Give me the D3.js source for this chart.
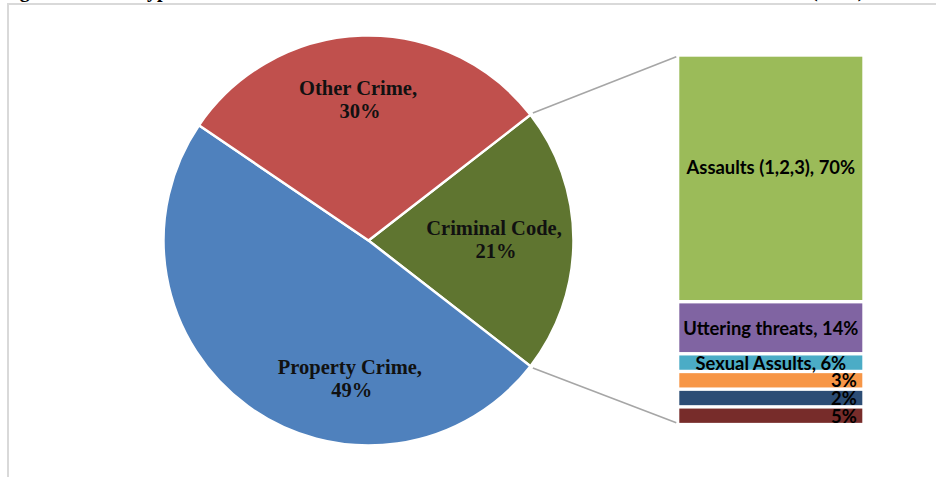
<!DOCTYPE html>
<html>
<head>
<meta charset="utf-8">
<script src="https://cdn.jsdelivr.net/npm/d3@7/dist/d3.min.js"></script>
<style>
  html, body { margin: 0; padding: 0; background: #fff; }
  svg { display: block; }
</style>
</head>
<body>
<svg id="chart" width="936" height="477"></svg>
<script>
// ---- data ----
const titleText = "Figure 2: Main Types of Crime and Criminal Code Violations in the Nation's Cities and Towns (2013)";
const pieCategories = ["Criminal Code", "Property Crime", "Other Crime"];
const pieValues = [21, 49, 30];
const barCategories = ["Assaults (1,2,3)", "Uttering threats", "Sexual Assults", "", "", ""];
const barValues = [70, 14, 6, 3, 2, 5];

// ---- styles / layout ----
const pieColors = ["#5f7530", "#4f81bd", "#c0504d"];
const barColors = ["#9bbb59", "#8064a2", "#4bacc6", "#f79646", "#2c4d75", "#772c2a"];
const W = 936, H = 477;
const cx = 368.5, cy = 240.5, R = 205;
const labelOffsets = [[-1.5, 0.5], [56, 37], [-6.5, -12.5]]; // px nudges from centroid
const barX = 679.3, barW = 183, barTop = 56.7, barGap = 3.4, smallH = 14.3, smallLimit = 10;

const svg = d3.select("#chart");
svg.append("rect").attr("width", W).attr("height", H).attr("fill", "#fff");

// frame
svg.append("path")
  .attr("d", `M8,${H + 5}V4H${W + 5}`)
  .attr("fill", "none").attr("stroke", "#d9d9d9").attr("stroke-width", 2);

// title (cut off at the top, as in the reference)
svg.append("text")
  .attr("x", 2).attr("y", -3)
  .attr("font-family", "'Liberation Serif', serif")
  .attr("font-weight", "bold").attr("font-size", 20)
  .attr("fill", "#000")
  .text(titleText);

// ---- pie ----
const ccShare = pieValues[0] / d3.sum(pieValues);
const a0 = Math.PI / 2 - ccShare * Math.PI;
const pie = d3.pie().sort(null).value(d => d).startAngle(a0).endAngle(a0 + 2 * Math.PI);
const arcs = pie(pieValues);
const arc = d3.arc().innerRadius(0).outerRadius(R);
const labelArc = d3.arc().innerRadius(127).outerRadius(127);

const g = svg.append("g").attr("transform", `translate(${cx},${cy})`);
g.selectAll("path.slice").data(arcs).join("path")
  .attr("class", "slice")
  .attr("d", arc)
  .attr("fill", (d, i) => pieColors[i])
  .attr("stroke", "#fff").attr("stroke-width", 2.5).attr("stroke-linejoin", "round");

const pl = g.selectAll("text.plabel").data(arcs).join("text")
  .attr("class", "plabel")
  .attr("font-family", "'Liberation Serif', serif")
  .attr("font-weight", "bold").attr("font-size", 20.5)
  .attr("fill", "#111")
  .attr("text-anchor", "middle");
pl.each(function(d, i) {
  const [x, y] = labelArc.centroid(d);
  const lx = x + labelOffsets[i][0], ly = y + labelOffsets[i][1];
  const t = d3.select(this);
  t.append("tspan").attr("x", lx).attr("y", ly - 6).text(pieCategories[i] + ",");
  t.append("tspan").attr("x", lx + 2).attr("y", ly + 16.5).text(pieValues[i] + "%");
});

// ---- bar of pie ----
const yScale = d3.scaleLinear().domain([0, barValues[0]]).range([0, 243.3]);
const heights = barValues.map(v => v < smallLimit ? smallH : yScale(v));
const tops = [];
heights.reduce((acc, h, i) => { tops[i] = acc; return acc + h + barGap; }, barTop);
const barBottom = tops[tops.length - 1] + heights[heights.length - 1];

// connector lines
const ccArc = arcs[0];
const p1 = [cx + (R + 3) * Math.sin(ccArc.startAngle), cy - (R + 3) * Math.cos(ccArc.startAngle)];
const p2 = [cx + (R + 3) * Math.sin(ccArc.endAngle), cy - (R + 3) * Math.cos(ccArc.endAngle)];
svg.append("line").attr("x1", p1[0]).attr("y1", p1[1]).attr("x2", barX - 3).attr("y2", barTop)
  .attr("stroke", "#a6a6a6").attr("stroke-width", 1.6);
svg.append("line").attr("x1", p2[0]).attr("y1", p2[1]).attr("x2", barX - 3).attr("y2", barBottom)
  .attr("stroke", "#a6a6a6").attr("stroke-width", 1.6);

const bars = svg.append("g");
bars.selectAll("rect").data(barValues).join("rect")
  .attr("x", barX).attr("width", barW)
  .attr("y", (d, i) => tops[i]).attr("height", (d, i) => heights[i])
  .attr("fill", (d, i) => barColors[i]);

bars.selectAll("text").data(barValues).join("text")
  .attr("font-family", "Lato, sans-serif")
  .attr("font-weight", "bold").attr("font-size", 18.4)
  .attr("fill", "#000")
  .attr("text-anchor", (d, i) => barCategories[i] ? "middle" : "end")
  .attr("x", (d, i) => barCategories[i] ? barX + barW / 2 : barX + barW - 5.5)
  .attr("y", (d, i) => heights[i] < 20 ? tops[i] + heights[i] : (i === 0 ? 173.5 : tops[i] + heights[i] / 2 + 7.5))
  .text((d, i) => barCategories[i] ? `${barCategories[i]}, ${d}%` : `${d}%`);
</script>
</body>
</html>
